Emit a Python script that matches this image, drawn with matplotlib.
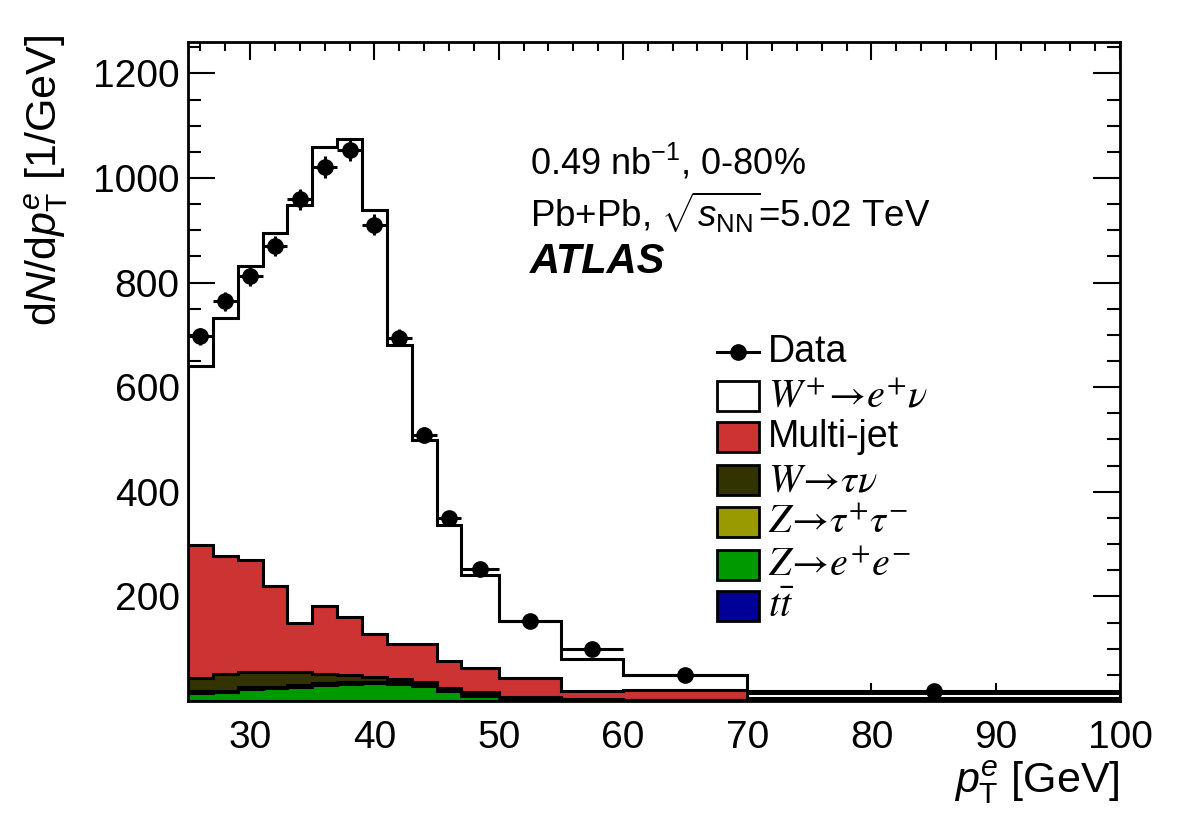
import numpy as np
import matplotlib
matplotlib.use("Agg")
import matplotlib.pyplot as plt
from matplotlib.patches import Rectangle
from matplotlib.lines import Line2D
from matplotlib.ticker import MultipleLocator

plt.rcParams['font.family'] = ['Liberation Sans', 'DejaVu Sans']
plt.rcParams['mathtext.fontset'] = 'custom'
plt.rcParams['mathtext.rm'] = 'Liberation Sans'
plt.rcParams['mathtext.it'] = 'Liberation Sans:italic'
plt.rcParams['mathtext.bf'] = 'Liberation Sans:bold'

# bin edges in GeV
edges = [25, 27, 29, 31, 33, 35, 37, 39, 41, 43, 45, 47, 50, 55, 60, 70, 100]

# data points and errors
data_y = [697, 764, 812, 870, 959, 1021, 1054, 911, 695, 508, 350, 252, 153, 100, 50, 19]
data_err = [17, 18, 19, 20, 20, 21, 21, 20, 17, 15, 12, 8, 6, 4, 2, 1]

# stacked contributions (bottom to top)
ttbar = [0.5, 0.5, 0.6, 0.6, 0.7, 0.7, 0.7, 0.7, 0.7, 0.6, 0.6, 0.5, 0.4, 0.3, 0.2, 0.1]
z_ee = [15, 16, 23, 24, 26, 30, 32, 33, 32, 28, 19, 10, 4, 2, 1, 0.4]
z_tautau = [3, 3, 3, 3, 3, 3, 3, 3, 3, 2, 2, 2, 1, 1, 0.5, 0.2]
w_taunu = [26, 32, 28, 28, 25, 18, 14, 10, 7, 6, 4, 5, 2, 1, 0.5, 0.3]
multijet = [254, 226, 215, 164, 95, 130, 110, 81, 66, 72, 51, 46, 37, 14, 18, 5]
w_enu = [342, 454, 562, 676, 798, 877, 915, 812, 572, 391, 259, 177, 108, 62, 30, 9]

components = [ttbar, z_ee, z_tautau, w_taunu, multijet, w_enu]
colors = ['#000099', '#009900', '#999900', '#333300', '#cc3333', 'white']
labels = [r'$t\bar{t}$', r'$Z\!\rightarrow\!e^{+}e^{-}$', r'$Z\!\rightarrow\!\tau^{+}\tau^{-}$',
          r'$W\!\rightarrow\!\tau\nu$', 'Multi-jet', r'$W^{+}\!\rightarrow\!e^{+}\nu$']

fig = plt.figure(figsize=(11.82, 8.36), dpi=100)
ax = fig.add_axes([188 / 1182, 1 - 701 / 836, 932 / 1182, 659 / 836])

edges_a = np.array(edges)
cum = np.cumsum(np.array(components, dtype=float), axis=0)

# draw from the top of the stack down so lower ones overlay
for i in range(len(components) - 1, -1, -1):
    ax.stairs(cum[i], edges_a, baseline=0, fill=True, facecolor=colors[i],
              edgecolor='black', linewidth=2.2, zorder=2 + (len(components) - i))

centers = 0.5 * (edges_a[1:] + edges_a[:-1])
xerr = 0.5 * (edges_a[1:] - edges_a[:-1])
ax.errorbar(centers, data_y, yerr=data_err, xerr=xerr, fmt='o', color='black',
            markersize=11, elinewidth=2.2, capsize=0, zorder=20)

ax.set_xlim(25, 100)
ax.set_ylim(0, 1260)
ax.xaxis.set_major_locator(MultipleLocator(10))
ax.xaxis.set_minor_locator(MultipleLocator(2))
ax.yaxis.set_major_locator(MultipleLocator(200))
ax.yaxis.set_minor_locator(MultipleLocator(50))
ax.set_xticks([30, 40, 50, 60, 70, 80, 90, 100])
ax.set_yticks([200, 400, 600, 800, 1000, 1200])
ax.tick_params(which='both', direction='in', top=True, right=True, width=1.5, labelsize=28)
ax.tick_params(axis='x', which='major', length=13, pad=14)
ax.tick_params(axis='x', which='minor', length=6.5)
ax.tick_params(axis='y', which='major', length=19.5, pad=6)
ax.tick_params(axis='y', which='minor', length=9.7)
for s in ax.spines.values():
    s.set_linewidth(2)
    s.set_zorder(30)

fig.text(46 / 1182, 1 - 35 / 836, r'd$N$/d$p_{\mathrm{T}}^{e}$ [1/GeV]', rotation=90,
         ha='center', va='top', fontsize=31)
fig.text(1120 / 1182, 1 - 782 / 836, r'$p_{\mathrm{T}}^{e}$ [GeV]', ha='right', va='center',
         fontsize=31)

fig.text(530 / 1182, 1 - 162 / 836, r'0.49 nb$^{\mathrm{-1}}$, 0-80%', ha='left', va='center', fontsize=26)
fig.text(530 / 1182, 1 - 212 / 836, r'Pb+Pb, $\sqrt{s_{\mathrm{NN}}}$=5.02 TeV', ha='left', va='center', fontsize=26.5)
fig.text(530 / 1182, 1 - 262 / 836, 'ATLAS', ha='left', va='center', fontsize=30,
         fontweight='bold', fontstyle='italic')

# legend drawn by hand in pixel-like positions (axes coords)
def ax_x(px):
    return (px - 188) / 932


def ax_y(py):
    return (701 - py) / 659


leg_rows = [352, 396, 437, 480, 522, 565, 606]
ax.add_line(Line2D([ax_x(717), ax_x(759)], [ax_y(352)] * 2, color='black', lw=2.2,
                   transform=ax.transAxes, zorder=40))
ax.add_line(Line2D([ax_x(738)], [ax_y(352)], marker='o', markersize=11, color='black',
                   transform=ax.transAxes, zorder=41))
ax.text(ax_x(768), ax_y(352), 'Data', transform=ax.transAxes, ha='left', va='center',
        fontsize=27, zorder=40)
order = [5, 4, 3, 2, 1, 0]
for row, i in zip(leg_rows[1:], order):
    ax.add_patch(Rectangle((ax_x(717), ax_y(row + 15)), 42 / 932, 30 / 659,
                           facecolor=colors[i], edgecolor='black', lw=2,
                           transform=ax.transAxes, zorder=40))
    fs = 27 if labels[i] == 'Multi-jet' else 29
    t = ax.text(ax_x(768), ax_y(row), labels[i], transform=ax.transAxes, ha='left',
                va='center', fontsize=fs, zorder=40)
    t.set_math_fontfamily('stix')

fig.savefig('out.png', dpi=100)
